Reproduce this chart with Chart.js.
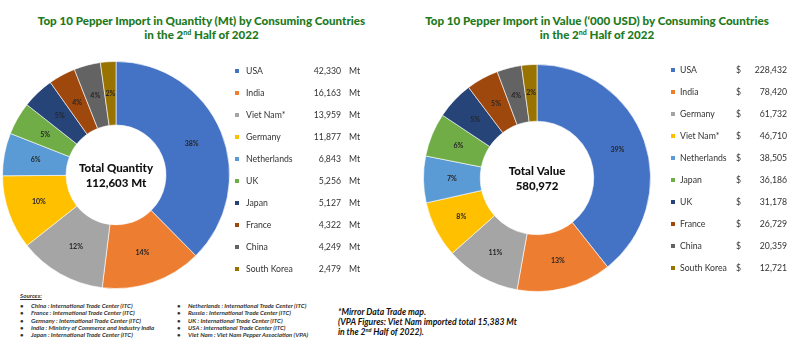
<!DOCTYPE html>
<html><head><meta charset="utf-8">
<script src="https://cdn.jsdelivr.net/npm/chart.js@4.4.1/dist/chart.umd.min.js"></script>
<style>
html,body{margin:0;padding:0;background:#fff;}
body{width:800px;height:361px;position:relative;overflow:hidden;font-family:Lato,"Open Sans",sans-serif;}
.title{position:absolute;color:#1d7a1d;font-weight:900;font-size:11.6px;text-align:center;line-height:14px;white-space:nowrap;}
.title sup{font-size:7px;line-height:0;vertical-align:4px;}
canvas{position:absolute;}
.leg{position:absolute;font-size:8.7px;color:#333;white-space:nowrap;}
.leg .m{position:absolute;width:4px;height:4px;}
.leg span{position:absolute;}
.src{position:absolute;font-size:6.2px;font-style:italic;font-weight:bold;color:#333;white-space:nowrap;}
.note{position:absolute;font-size:8.6px;font-style:italic;font-weight:bold;color:#111;white-space:nowrap;line-height:10px;}
.note sup{font-size:5.5px;line-height:0;vertical-align:3px;}
</style></head><body>
<div class="title" style="left:0;width:403px;top:14px;">Top 10 Pepper Import in Quantity (Mt) by Consuming Countries<br>in the 2<sup>nd</sup> Half of 2022</div>
<div class="title" style="left:400px;width:394px;top:14px;">Top 10 Pepper Import in Value (‘000 USD) by Consuming Countries<br>in the 2<sup>nd</sup> Half of 2022</div>
<canvas id="c1" width="228" height="228" style="left:2px;top:61px;"></canvas>
<canvas id="c2" width="228" height="228" style="left:423px;top:64px;"></canvas>
<div id="leg1"></div>
<div id="leg2"></div>
<div id="src"></div>
<div class="note" style="left:338px;top:307px;">*Mirror Data Trade map.<br>(VPA Figures: Viet Nam imported total 15,383 Mt<br>in the 2<sup>nd</sup> Half of 2022).</div>
<script>
const colors = ['#4472C4','#ED7D31','#A5A5A5','#FFC000','#5B9BD5','#70AD47','#264478','#9E480E','#636363','#997300'];

const qtyCountries = ['USA','India','Viet Nam*','Germany','Netherlands','UK','Japan','France','China','South Korea'];
const qtyValues = [42330,16163,13959,11877,6843,5256,5127,4322,4249,2479];
const qtyPct = ['38%','14%','12%','10%','6%','5%','5%','4%','4%','2%'];
const qtyTotal = '112,603 Mt';

const valCountries = ['USA','India','Germany','Viet Nam*','Netherlands','Japan','UK','France','China','South Korea'];
const valValues = [228432,78420,61732,46710,38505,36186,31178,26729,20359,12721];
const valPct = ['39%','13%','11%','8%','7%','6%','5%','5%','4%','2%'];
const valTotal = '580,972';

const sourcesLeft = ['China : International Trade Center (ITC)','France : International Trade Center (ITC)','Germany : International Trade Center (ITC)','India : Ministry of Commerce and Industry India','Japan : International Trade Center (ITC)'];
const sourcesRight = ['Netherlands : International Trade Center (ITC)','Russia : International Trade Center (ITC)','UK : International Trade Center (ITC)','USA : International Trade Center (ITC)','Viet Nam : Viet Nam Pepper Association (VPA)'];

function fmt(n){return n.toLocaleString('en-US');}

const labelPlugin = {
  id:'pctLabels',
  afterDatasetsDraw(chart){
    const ctx = chart.ctx;
    const meta = chart.getDatasetMeta(0);
    const labels = chart.options.plugins.pctLabels.labels;
    ctx.save();
    ctx.font = 'bold 7px Lato, sans-serif';
    ctx.fillStyle = '#262626';
    ctx.textAlign = 'center';
    ctx.textBaseline = 'middle';
    meta.data.forEach((arc,i)=>{
      const p = arc.tooltipPosition();
      ctx.fillText(labels[i], p.x, p.y);
    });
    const c = meta.data[0];
    const lines = chart.options.plugins.pctLabels.center;
    ctx.font = '900 11.5px Lato, sans-serif';
    ctx.fillStyle = '#111';
    ctx.fillText(lines[0], c.x, c.y - 7);
    ctx.fillText(lines[1], c.x, c.y + 8);
    ctx.restore();
  }
};

function makeChart(id, labels, values, pct, center, cutout){
  new Chart(document.getElementById(id), {
    type:'doughnut',
    data:{labels:labels, datasets:[{data:values, backgroundColor:colors, borderColor:'rgba(255,255,255,0.6)', borderWidth:1}]},
    options:{
      responsive:false, animation:false, cutout:cutout,
      layout:{padding:0},
      plugins:{legend:{display:false}, tooltip:{enabled:false}, pctLabels:{labels:pct, center:center}}
    },
    plugins:[labelPlugin]
  });
}
makeChart('c1', qtyCountries, qtyValues, qtyPct, ['Total Quantity', qtyTotal], '44%');
makeChart('c2', valCountries, valValues, valPct, ['Total Value', valTotal], '50%');

function legend(el, names, vals, cfg){
  let h='';
  names.forEach((n,i)=>{
    const y = cfg.y0 + i*cfg.dy;
    h += `<div class="leg" style="left:0;top:${y-6}px;width:800px;height:12px;">
      <div class="m" style="left:${cfg.mx}px;top:4px;background:${colors[i]}"></div>
      <span style="left:${cfg.tx}px;top:0">${n}</span>
      ${cfg.dollar?`<span style="left:${cfg.dollar}px;top:0">$</span>`:''}
      <span style="right:${800-cfg.vr}px;top:0">${fmt(vals[i])}</span>
      ${cfg.unit?`<span style="left:${cfg.unit}px;top:0">${cfg.unitText}</span>`:''}
    </div>`;
  });
  document.getElementById(el).innerHTML = h;
}
legend('leg1', qtyCountries, qtyValues, {y0:70.5, dy:22.1, mx:235, tx:246, vr:341, unit:349, unitText:'Mt'});
legend('leg2', valCountries, valValues, {y0:69.5, dy:22.1, mx:671, tx:680, vr:787, dollar:736});

let s = '<div class="src" style="left:20px;top:292px;text-decoration:underline;">Sources:</div>';
sourcesLeft.forEach((t,i)=>{ s += `<div class="src" style="left:20px;top:${302+i*7.3}px;">•</div><div class="src" style="left:31px;top:${302+i*7.3}px;">${t}</div>`; });
sourcesRight.forEach((t,i)=>{ s += `<div class="src" style="left:177px;top:${302+i*7.3}px;">•</div><div class="src" style="left:188px;top:${302+i*7.3}px;">${t}</div>`; });
document.getElementById('src').innerHTML = s;
</script>
</body></html>
